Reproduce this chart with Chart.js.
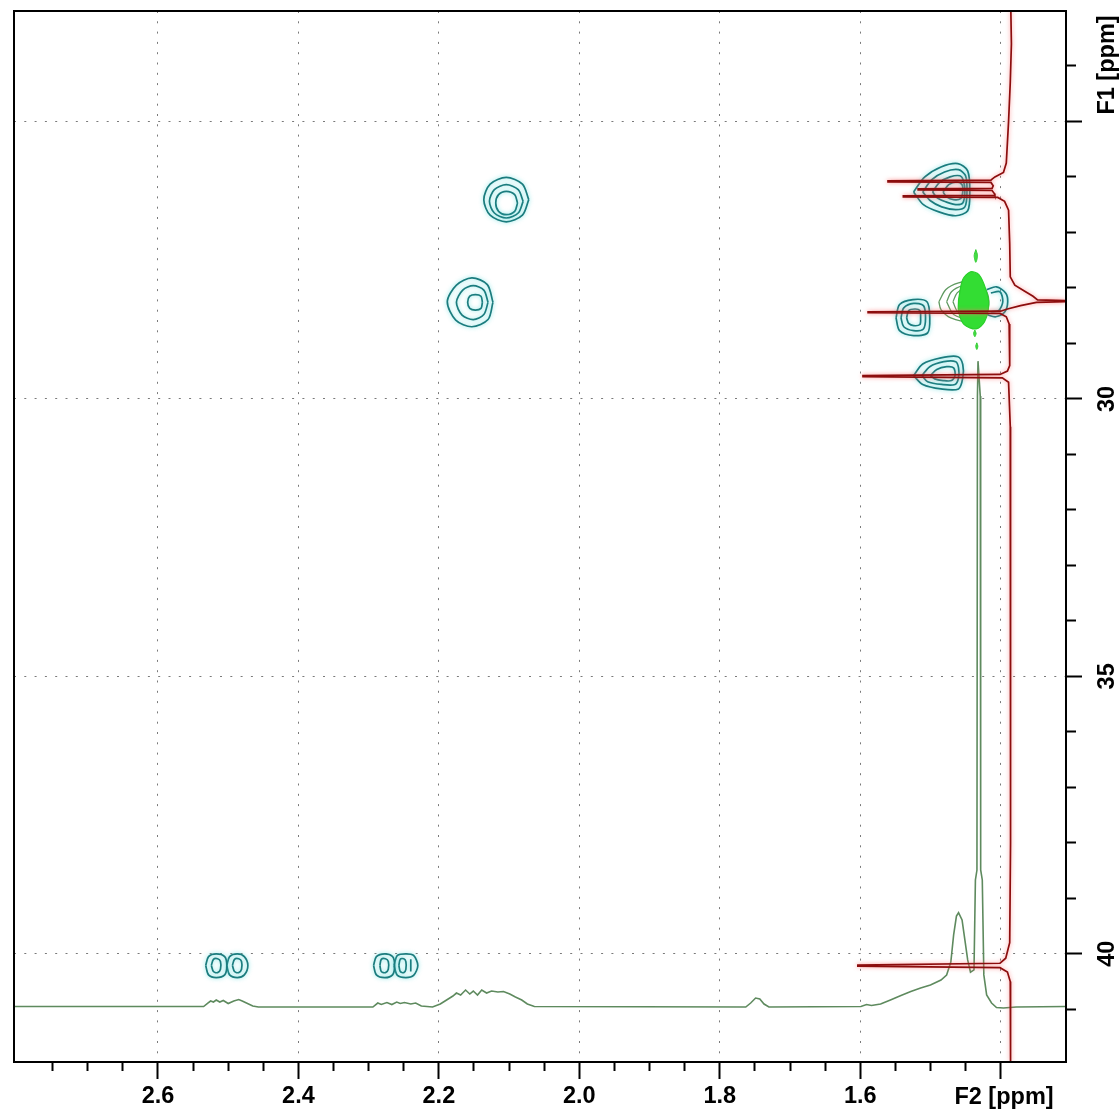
<!DOCTYPE html>
<html><head><meta charset="utf-8">
<script src="https://cdn.jsdelivr.net/npm/chart.js@4.4.1/dist/chart.umd.min.js"></script>
<style>html,body{margin:0;padding:0;background:#fff;}canvas{display:block;}</style>
</head><body>
<canvas id="c" width="1120" height="1114" style="width:1120px;height:1114px"></canvas>
<script>
// ---------- axes (ppm) ----------
const f2Range = [1.307, 2.805];          // F2 (1H) axis, drawn reversed
const f1Range = [23.01, 41.95];          // F1 (13C) axis, drawn reversed
const f2LabelTicks = [2.6, 2.4, 2.2, 2.0, 1.8, 1.6];
const f1LabelTicks = [30, 35, 40];
const axisTitles = ['F2 [ppm]', 'F1 [ppm]'];

// ---------- 1D projections ----------
// F2 (horizontal) trace: [F2 ppm, intensity]
const f2Trace = [
 [2.804,0],[2.535,0],[2.529,0.63],[2.525,0.99],[2.521,0.81],[2.517,1.17],[2.512,0.81],[2.507,1.08],[2.500,0.54],[2.492,0.99],[2.485,1.26],[2.480,0.99],[2.474,0.63],[2.465,0.09],[2.457,-0.09],
 [2.294,-0.09],[2.287,0.63],[2.282,0.36],[2.274,0.72],[2.267,0.36],[2.260,0.81],[2.255,0.54],[2.249,0.72],[2.240,0.45],[2.233,0.63],[2.225,0.09],[2.209,-0.09],
 [2.198,0.45],[2.189,1.17],[2.180,1.89],[2.175,2.43],[2.169,2.07],[2.162,2.97],[2.156,2.25],[2.151,2.79],[2.145,2.07],[2.139,2.97],[2.132,2.43],[2.125,2.79],[2.116,2.61],[2.108,2.70],[2.099,2.25],[2.091,1.71],[2.082,1.17],[2.074,0.45],[2.064,0],
 [1.763,-0.09],[1.756,0.63],[1.749,1.53],[1.743,1.35],[1.737,0.45],[1.730,-0.09],
 [1.599,0],[1.591,0.36],[1.584,0.18],[1.571,0.45],[1.557,1.17],[1.542,1.98],[1.528,2.70],[1.514,3.33],[1.500,3.87],[1.485,4.77],[1.477,5.68],[1.471,8.02],[1.467,12.9],[1.463,16.3],[1.460,16.9],[1.455,15.6],[1.451,12.0],[1.447,8.4],[1.443,6.2],[1.438,6.6],
 [1.436,22.8],[1.4338,24.6],[1.4331,110.0],[1.4323,116.3],[1.4311,116.3],[1.4291,110.0],[1.4285,24.6],[1.4262,22.8],[1.424,5.7],[1.420,2.1],[1.413,0.63],[1.406,-0.18],[1.396,-0.27],[1.378,-0.09],[1.307,0]
];
// F1 (vertical) trace: [F1 ppm, intensity]
const f1Trace = [
 [23.00,-0.3],[23.60,-0.4],[24.30,-0.2],[25.00,0.1],[25.75,0.5],[25.92,1.0],[26.00,2.5],[26.04,3.0],
 [26.058,3.2],[26.070,21.3],[26.088,21.3],[26.100,3.2],[26.16,2.8],
 [26.205,3.0],[26.215,16.0],[26.232,16.0],[26.245,3.0],[26.30,2.6],
 [26.330,2.5],[26.340,18.6],[26.358,18.6],[26.370,2.0],[26.44,0.8],[26.60,0.1],[27.20,-0.1],[27.80,-0.2],
 [27.95,-1.0],[28.05,-2.6],[28.15,-4.2],[28.215,-5.0],[28.230,-9.7],[28.248,-9.7],[28.262,-4.8],[28.32,-2.0],[28.38,0.3],
 [28.42,1.5],[28.430,24.8],[28.448,24.8],[28.46,1.6],[28.52,0.5],[28.65,0.0],[29.40,-0.1],[29.50,0.3],
 [29.56,1.6],[29.582,25.7],[29.600,25.7],[29.62,1.2],[29.70,0.1],[30.5,-0.2],[32.0,-0.3],[34.0,-0.2],[36.0,-0.3],[38.0,-0.2],[39.8,-0.1],[40.08,0.6],
 [40.17,1.6],[40.205,26.6],[40.223,26.6],[40.25,1.6],[40.33,0.3],[40.50,-0.2],[41.5,-0.3],[41.95,-0.2]
];

// ---------- positive cross peaks: contour rings [F2 ppm, F1 ppm] ----------
const peak2p10 = [
 [[2.072,26.41],[2.081,26.69],[2.104,26.81],[2.127,26.69],[2.136,26.41],[2.127,26.13],[2.104,26.01],[2.081,26.13]],
 [[2.080,26.44],[2.087,26.65],[2.104,26.74],[2.121,26.65],[2.128,26.44],[2.121,26.23],[2.104,26.14],[2.087,26.23]],
 [[2.088,26.47],[2.092,26.62],[2.104,26.68],[2.115,26.62],[2.119,26.47],[2.115,26.32],[2.104,26.26],[2.092,26.32]]
];
const peak2p15 = [
 [[2.123,28.26],[2.130,28.57],[2.153,28.70],[2.176,28.58],[2.188,28.25],[2.175,27.95],[2.153,27.82],[2.131,27.94]],
 [[2.130,28.26],[2.136,28.48],[2.151,28.57],[2.167,28.49],[2.175,28.26],[2.166,28.04],[2.151,27.96],[2.136,28.04]],
 [[2.138,28.26],[2.140,28.37],[2.148,28.40],[2.156,28.37],[2.159,28.26],[2.156,28.15],[2.148,28.12],[2.140,28.15]]
];
const peak1p47a = [
 [[1.524,26.27],[1.508,26.00],[1.485,25.82],[1.461,25.76],[1.447,25.89],[1.444,26.27],[1.447,26.61],[1.464,26.70],[1.488,26.63],[1.510,26.50]],
 [[1.511,26.27],[1.498,26.05],[1.480,25.91],[1.460,25.87],[1.450,25.98],[1.448,26.27],[1.451,26.54],[1.464,26.59],[1.484,26.54],[1.500,26.43]],
 [[1.497,26.27],[1.487,26.10],[1.472,26.00],[1.458,25.98],[1.453,26.07],[1.451,26.27],[1.454,26.47],[1.464,26.50],[1.478,26.45],[1.490,26.38]],
 [[1.482,26.27],[1.474,26.14],[1.463,26.09],[1.455,26.14],[1.454,26.27],[1.457,26.39],[1.467,26.41],[1.477,26.36]]
];
const peak1p53 = [
 [[1.549,28.54],[1.544,28.30],[1.525,28.21],[1.505,28.25],[1.501,28.54],[1.504,28.81],[1.524,28.86],[1.544,28.77]],
 [[1.542,28.54],[1.538,28.36],[1.524,28.28],[1.510,28.32],[1.507,28.54],[1.510,28.74],[1.524,28.77],[1.538,28.70]],
 [[1.534,28.54],[1.531,28.41],[1.522,28.38],[1.515,28.41],[1.514,28.54],[1.515,28.66],[1.524,28.68],[1.531,28.64]]
];
const peak1p49 = [
 [[1.524,29.58],[1.511,29.37],[1.485,29.26],[1.461,29.24],[1.454,29.38],[1.454,29.62],[1.460,29.82],[1.485,29.82],[1.511,29.74]],
 [[1.512,29.58],[1.501,29.42],[1.481,29.33],[1.464,29.33],[1.460,29.44],[1.460,29.62],[1.465,29.74],[1.484,29.74],[1.504,29.69]],
 [[1.500,29.58],[1.491,29.47],[1.477,29.42],[1.467,29.44],[1.465,29.58],[1.470,29.67],[1.482,29.67],[1.494,29.64]]
];
const peak1p40 = [
 [[1.420,28.03],[1.406,27.98],[1.393,28.09],[1.390,28.25],[1.394,28.43],[1.407,28.52],[1.420,28.48]],
 [[1.414,28.09],[1.401,28.07],[1.397,28.25],[1.403,28.41],[1.414,28.43]]
];
const peak2p50 = [
 [[2.532,40.21],[2.528,40.05],[2.517,40.00],[2.505,40.05],[2.502,40.21],[2.505,40.38],[2.517,40.43],[2.528,40.38]],
 [[2.502,40.21],[2.498,40.05],[2.487,40.00],[2.477,40.05],[2.472,40.21],[2.477,40.38],[2.487,40.43],[2.498,40.38]],
 [[2.524,40.21],[2.521,40.10],[2.515,40.09],[2.511,40.14],[2.511,40.28],[2.515,40.34],[2.521,40.32]],
 [[2.494,40.21],[2.491,40.10],[2.485,40.09],[2.481,40.14],[2.481,40.28],[2.485,40.34],[2.491,40.32]]
];
const peak2p27 = [
 [[2.293,40.21],[2.289,40.05],[2.277,40.00],[2.266,40.05],[2.263,40.21],[2.266,40.38],[2.277,40.43],[2.289,40.38]],
 [[2.264,40.21],[2.259,40.03],[2.247,40.00],[2.236,40.03],[2.230,40.21],[2.236,40.39],[2.247,40.43],[2.259,40.39]],
 [[2.284,40.21],[2.282,40.10],[2.276,40.09],[2.272,40.14],[2.272,40.28],[2.276,40.34],[2.282,40.32]],
 [[2.257,40.21],[2.255,40.10],[2.250,40.09],[2.247,40.14],[2.247,40.28],[2.250,40.34],[2.255,40.32]]
];
const peak2p27line = [[2.240,40.10],[2.240,40.32]];

// ---------- negative cross peak (1.43 / 28.2) ----------
const negFill = [[1.460,28.21],[1.454,27.85],[1.443,27.71],[1.431,27.76],[1.421,28.03],[1.417,28.30],[1.423,28.61],[1.435,28.74],[1.452,28.66],[1.460,28.43]];
const negRings = [
 [[1.488,28.25],[1.478,28.03],[1.460,27.91],[1.435,27.87],[1.420,28.07],[1.417,28.30],[1.423,28.54],[1.443,28.61],[1.471,28.54],[1.485,28.39]],
 [[1.477,28.25],[1.470,28.07],[1.454,27.96],[1.434,27.94],[1.421,28.10],[1.420,28.30],[1.425,28.50],[1.443,28.56],[1.467,28.48]],
 [[1.468,28.25],[1.462,28.09],[1.450,28.00],[1.434,28.00],[1.424,28.14],[1.423,28.30],[1.428,28.47],[1.443,28.50],[1.461,28.43]]
];
const negDots = [
 [[1.4354,27.31],[1.4330,27.42],[1.4354,27.54],[1.4378,27.42]],
 [[1.4368,28.76],[1.4350,28.82],[1.4368,28.88],[1.4386,28.82]],
 [[1.4340,28.99],[1.4325,29.05],[1.4340,29.11],[1.4355,29.05]]
];

// ---------- build datasets ----------
const TEAL = '#1b7c7e', TEAL_GLOW = 'rgba(70,215,215,0.7)';
const toXY = (pts, closed) => {
  const d = pts.map(p => ({x: p[0], y: p[1]}));
  if (closed) d.push({x: pts[0][0], y: pts[0][1]});
  return d;
};
const lineDs = (data, color, extra) => Object.assign({
  data, showLine: true, borderColor: color, borderWidth: 1.7, pointRadius: 0,
  tension: 0.3, fill: false, xAxisID: 'x', yAxisID: 'y'
}, extra || {});

const datasets = [];
datasets.push(lineDs(f1Trace.map(p => ({x: p[1], y: p[0]})), '#8c0d0d',
  {xAxisID: 'xp', tension: 0, borderWidth: 1.7, glow: 'rgba(255,110,110,0.75)'}));
datasets.push(lineDs(f2Trace.map(p => ({x: p[0], y: p[1]})), '#5e8a5e',
  {yAxisID: 'yp', tension: 0, borderWidth: 1.6}));
negDots.forEach(r => datasets.push(lineDs(toXY(r, true), '#33cc33',
  {fill: 'shape', backgroundColor: '#44dd44', borderWidth: 1})));
datasets.push(lineDs(toXY(negFill, true), '#2bcf2b',
  {fill: 'shape', backgroundColor: '#33dd33', borderWidth: 1.2}));
negRings.forEach(r => datasets.push(lineDs(toXY(r, true), '#5f9a60', {borderWidth: 1.3})));
[peak2p10, peak2p15, peak1p47a, peak1p53, peak1p49, peak2p50, peak2p27].forEach(rings =>
  rings.forEach(r => datasets.push(lineDs(toXY(r, true), TEAL, {glow: TEAL_GLOW}))));
peak1p40.forEach(r => datasets.push(lineDs(toXY(r, false), TEAL, {glow: TEAL_GLOW})));
datasets.push(lineDs(toXY(peak2p27line, false), TEAL, {glow: TEAL_GLOW, tension: 0}));

// ---------- helpers ----------
const onStep = (v, step) => Math.abs(v / step - Math.round(v / step)) < 1e-6;
const FONT = '"Liberation Sans", Arial, Helvetica, sans-serif';

const glowPlugin = {
  id: 'glow',
  beforeDatasetDraw(chart, args) {
    const ds = chart.data.datasets[args.index];
    if (ds.glow) { const c = chart.ctx; c.save(); c.shadowColor = ds.glow; c.shadowBlur = 4; }
  },
  afterDatasetDraw(chart, args) {
    const ds = chart.data.datasets[args.index];
    if (ds.glow) chart.ctx.restore();
  }
};

const framePlugin = {
  id: 'frameText',
  afterDraw(chart) {
    const {ctx, chartArea: a, scales} = chart;
    const y = scales.y;
    ctx.save();
    ctx.strokeStyle = '#000'; ctx.lineWidth = 2;
    ctx.strokeRect(a.left, a.top, a.right - a.left, a.bottom - a.top);
    ctx.fillStyle = '#000';
    ctx.font = 'bold 23.5px ' + FONT;
    ctx.textBaseline = 'alphabetic';
    // F1 tick labels, rotated
    f1LabelTicks.forEach(v => {
      ctx.save();
      ctx.translate(a.right + 48, y.getPixelForValue(v));
      ctx.rotate(-Math.PI / 2);
      ctx.textAlign = 'center';
      ctx.fillText(String(v), 0, 0);
      ctx.restore();
    });
    // F1 title at the top end of the axis
    ctx.save();
    ctx.translate(a.right + 48, a.top + 54);
    ctx.rotate(-Math.PI / 2);
    ctx.textAlign = 'center';
    ctx.fillText(axisTitles[1], 0, 0);
    ctx.restore();
    // F2 title at the right end of the axis
    ctx.textAlign = 'center';
    ctx.fillText(axisTitles[0], a.right - 62, a.bottom + 42);
    ctx.restore();
  }
};

new Chart(document.getElementById('c'), {
  type: 'scatter',
  data: {datasets},
  options: {
    responsive: false, devicePixelRatio: 1, animation: false, events: [],
    layout: {padding: {left: 14, top: 11, right: 0, bottom: 0}},
    plugins: {legend: {display: false}, tooltip: {enabled: false}},
    scales: {
      x: {
        type: 'linear', axis: 'x', position: 'bottom', reverse: true,
        min: f2Range[0], max: f2Range[1],
        afterFit: s => { s.height = 52; },
        border: {display: false, dash: [2, 8.3]},
        grid: {
          color: c => (c.tick && onStep(c.tick.value, 0.2)) ? '#7a7a7a' : 'rgba(0,0,0,0)',
          lineWidth: 1, tickLength: 17, tickWidth: 2,
          tickColor: c => (c.tick && onStep(c.tick.value, 0.05)) ? '#000' : 'rgba(0,0,0,0)',
          tickBorderDash: c => (c.tick && onStep(c.tick.value, 0.2)) ? [] : [9, 60]
        },
        ticks: {
          stepSize: 0.05, autoSkip: false, maxRotation: 0, minRotation: 0, padding: 3,
          color: '#000', font: {family: FONT, size: 23.5, weight: 'bold'},
          callback: v => f2LabelTicks.some(t => Math.abs(t - v) < 1e-6) ? Number(v).toFixed(1) : ''
        }
      },
      y: {
        type: 'linear', axis: 'y', position: 'right', reverse: true,
        min: f1Range[0], max: f1Range[1],
        afterFit: s => { s.width = 54; },
        border: {display: false, dash: [2, 8.3]},
        grid: {
          color: c => (c.tick && onStep(c.tick.value, 5)) ? '#7a7a7a' : 'rgba(0,0,0,0)',
          lineWidth: 1, tickLength: 16, tickWidth: 2,
          tickColor: c => (c.tick && onStep(c.tick.value, 1)) ? '#000' : 'rgba(0,0,0,0)',
          tickBorderDash: c => (c.tick && onStep(c.tick.value, 5)) ? [] : [10, 60]
        },
        ticks: {stepSize: 1, display: false}
      },
      xp: {type: 'linear', axis: 'x', display: false, reverse: true, min: -10, max: 175},
      yp: {type: 'linear', axis: 'y', display: false, min: -10, max: 179.4}
    }
  },
  plugins: [glowPlugin, framePlugin]
});
</script>
</body></html>
